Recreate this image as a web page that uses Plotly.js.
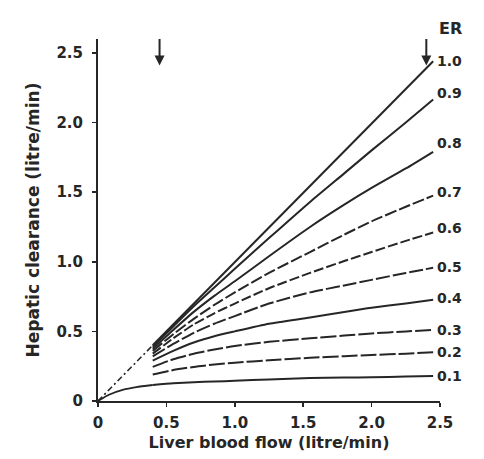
<!DOCTYPE html>
<html>
<head>
<meta charset="utf-8">
<script src="https://cdn.plot.ly/plotly-3.0.1.min.js"></script>
<style>html,body{margin:0;padding:0;background:#fff;}#chart{width:484px;height:459px;}</style>
</head>
<body>
<div id="chart"></div>
<script>
// Liver blood flow (litre/min) sample points
const flow = [0.4, 0.55, 0.7, 0.85, 1.0, 1.25, 1.55, 1.8, 2.0, 2.25, 2.45];
const flowER10 = [0.4, 2.45];
// Hepatic clearance (litre/min) for each extraction ratio (ER)
const er10 = [0.40, 2.44];
const er09 = [0.39, 0.535, 0.68, 0.815, 0.95, 1.17, 1.43, 1.635, 1.80, 2.0, 2.165];
const er08 = [0.375, 0.51, 0.64, 0.755, 0.86, 1.04, 1.25, 1.41, 1.53, 1.67, 1.79];
const er07 = [0.36, 0.48, 0.59, 0.69, 0.78, 0.92, 1.07, 1.195, 1.29, 1.395, 1.475];
const er06 = [0.34, 0.45, 0.55, 0.63, 0.70, 0.81, 0.92, 1.005, 1.07, 1.15, 1.21];
const er05 = [0.32, 0.41, 0.49, 0.555, 0.61, 0.70, 0.78, 0.83, 0.87, 0.92, 0.957];
const er04 = [0.29, 0.36, 0.42, 0.465, 0.50, 0.555, 0.60, 0.64, 0.67, 0.70, 0.727];
const er03 = [0.245, 0.30, 0.34, 0.37, 0.395, 0.425, 0.45, 0.47, 0.485, 0.50, 0.51];
const er02 = [0.19, 0.222, 0.245, 0.262, 0.275, 0.293, 0.31, 0.322, 0.33, 0.34, 0.35];
const er01 = [0.115, 0.127, 0.135, 0.14, 0.145, 0.155, 0.165, 0.168, 0.17, 0.176, 0.18];
// low-flow extensions to the origin
const lowFlowA = [0, 0.4];
const lowClA = [0, 0.40];
const lowFlowB = [0, 0.08, 0.18, 0.28, 0.4];
const lowClB = [0, 0.045, 0.08, 0.1, 0.115];
// labels
const erLabels = ["1.0", "0.9", "0.8", "0.7", "0.6", "0.5", "0.4", "0.3", "0.2", "0.1"];
const erLabelY = [2.445, 2.21, 1.85, 1.50, 1.24, 0.96, 0.74, 0.51, 0.35, 0.18];
const arrowFlow = [0.45, 2.4];
const tickVals = [0, 0.5, 1.0, 1.5, 2.0, 2.5];
const tickText = ["0", "0.5", "1.0", "1.5", "2.0", "2.5"];

const series = [er09, er08, er07, er06, er05, er04, er03, er02, er01];
const dashes = ["solid", "solid", "12px,3px", "10px,3px", "14px,3px", "solid", "16px,3px", "16px,3px", "solid"];
const ink = "#262626";
const FONT = "DejaVu Sans, Verdana, sans-serif";

const traces = [{
  x: flowER10, y: er10, type: "scatter", mode: "lines",
  line: {color: ink, width: 2}, hoverinfo: "skip", showlegend: false
}];
series.forEach((s, i) => traces.push({
  x: flow, y: s, type: "scatter", mode: "lines",
  line: {color: ink, width: 2, dash: dashes[i], shape: "spline", smoothing: 0.6},
  hoverinfo: "skip", showlegend: false
}));
traces.push({x: lowFlowA, y: lowClA, type: "scatter", mode: "lines",
  line: {color: ink, width: 1.6, dash: "6px,3px,2px,3px"}, hoverinfo: "skip", showlegend: false});
traces.push({x: lowFlowB, y: lowClB, type: "scatter", mode: "lines",
  line: {color: ink, width: 1.8, shape: "spline", smoothing: 0.6}, hoverinfo: "skip", showlegend: false});

const annotations = erLabels.map((t, i) => ({
  x: 1.07, xref: "paper", y: erLabelY[i], yref: "y", yanchor: "middle", text: t, showarrow: false,
  font: {family: FONT, size: 14, color: ink, weight: "bold"}
}));
annotations.push({x: 1.07, xref: "paper", y: 1.03, yref: "paper", yanchor: "middle", text: "ER", showarrow: false,
  font: {family: FONT, size: 16, color: ink, weight: "bold"}});
arrowFlow.forEach(f => annotations.push({
  x: f, y: 2.41, xref: "x", yref: "y", ax: 0, ay: -28, showarrow: true,
  arrowhead: 2, arrowsize: 1, arrowwidth: 2, arrowcolor: ink, text: ""
}));

const layout = {
  width: 484, height: 459,
  margin: {l: 98, r: 44, t: 39, b: 58},
  paper_bgcolor: "#fff", plot_bgcolor: "#fff",
  font: {family: FONT, color: ink},
  xaxis: {
    range: [0, 2.5], tickvals: tickVals, ticktext: tickText,
    showgrid: false, zeroline: false, showline: true, linecolor: ink, linewidth: 2,
    ticks: "outside", ticklen: 4, tickwidth: 1.5, tickcolor: ink, ticklabelstandoff: 3,
    tickfont: {family: FONT, size: 15, color: ink, weight: "bold"},
    title: {text: "Liver blood flow (litre/min)", standoff: 6,
            font: {family: FONT, size: 16, color: ink, weight: "bold"}}
  },
  yaxis: {
    range: [0, 2.6], tickvals: tickVals, ticktext: tickText,
    showgrid: false, zeroline: false, showline: true, linecolor: ink, linewidth: 2,
    ticks: "outside", ticklen: 4, tickwidth: 1.5, tickcolor: ink, ticklabelstandoff: 6,
    tickfont: {family: FONT, size: 15, color: ink, weight: "bold"},
    title: {text: "Hepatic clearance (litre/min)", standoff: 12,
            font: {family: FONT, size: 17, color: ink, weight: "bold"}}
  },
  annotations: annotations
};

Plotly.newPlot("chart", traces, layout, {displayModeBar: false, staticPlot: true});
</script>
</body>
</html>
